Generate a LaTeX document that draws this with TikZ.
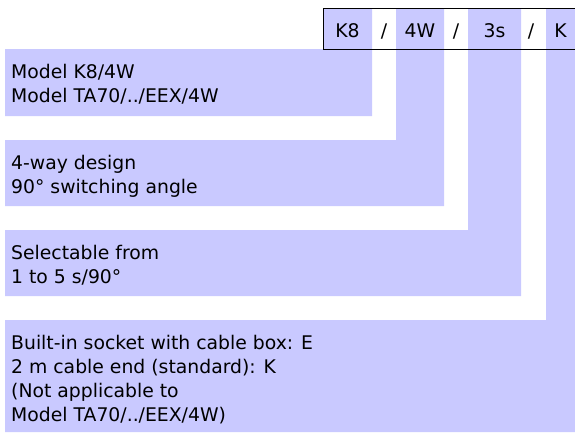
\documentclass[tikz,border=0pt]{standalone}
\usepackage{fontspec}
\setmainfont{DejaVu Sans}
\definecolor{lila}{RGB}{201,201,255}
\begin{document}
\begin{tikzpicture}[x=1pt, y=-1pt,
        texto/.style={font=\fontsize{18.8}{24}\selectfont, inner sep=0pt, anchor=north west, align=left},
        clave/.style={font=\fontsize{18.8}{24}\selectfont, inner sep=0pt, anchor=base}]
        \useasboundingbox (0,0) rectangle (575,432);

        % Franjas en L de cada campo del código
        \fill[lila] (323,8) -- (372,8) -- (372,116) -- (5,116) -- (5,49) -- (323,49) -- cycle;
        \fill[lila] (396,8) -- (444,8) -- (444,206) -- (5,206) -- (5,140) -- (396,140) -- cycle;
        \fill[lila] (468,8) -- (521,8) -- (521,296) -- (5,296) -- (5,230) -- (468,230) -- cycle;
        \fill[lila] (546,8) -- (575,8) -- (575,432) -- (5,432) -- (5,320) -- (546,320) -- cycle;

        % Marco del código de pedido
        \draw[line width=1pt] (575,8) -- (323,8) -- (323,49) -- (575,49);

        % Campos del código
        \node[clave] (k8) at (347.5,37) {K8};
        \node[clave] (bar1) at (384,37) {/};
        \node[clave] (w4) at (420,37) {4W};
        \node[clave] (bar2) at (456,37) {/};
        \node[clave] (s3) at (494.5,37) {3s};
        \node[clave] (bar3) at (531,37) {/};
        \node[clave] (kk) at (560.5,37) {K};

        % Descripciones de cada campo
        \node[texto] (modelo) at (11,61.2) {\strut Model K8/4W\\Model TA70/../EEX/4W};
        \node[texto] (vias) at (11,152.2) {\strut 4-way design\\90° switching angle};
        \node[texto] (tiempo) at (11,242.2) {\strut Selectable from\\1 to 5 s/90°};
        \node[texto] (conexion) at (11,332.2) {\strut Built-in socket with cable box: E\\2 m cable end (standard): K\\(Not applicable to\\Model TA70/../EEX/4W)};
    \end{tikzpicture}
\end{document}
